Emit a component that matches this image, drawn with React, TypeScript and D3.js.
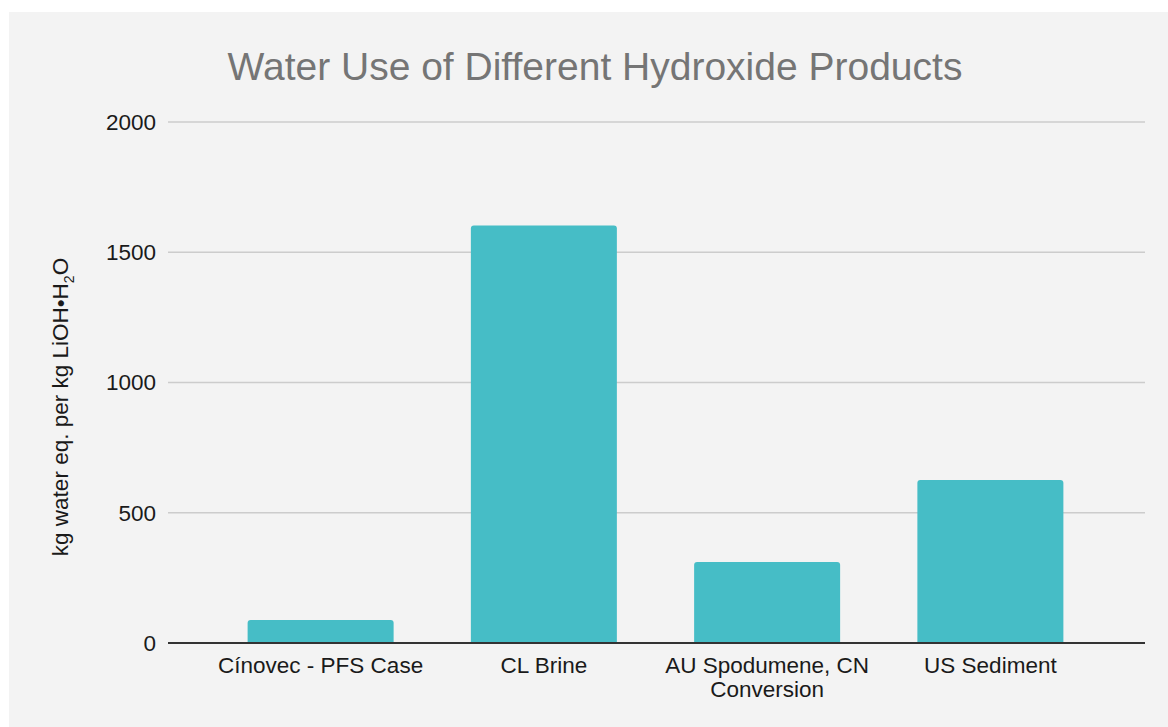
import React from "react";
import * as d3 from "d3";

const categories = ["Cínovec - PFS Case", "CL Brine", "AU Spodumene, CN Conversion", "US Sediment"];
const categoryLines = [["Cínovec - PFS Case"], ["CL Brine"], ["AU Spodumene, CN", "Conversion"], ["US Sediment"]];
const values = [88, 1603, 311, 626];
const yTicks = [0, 500, 1000, 1500, 2000];

const W = 1168;
const H = 727;
const plotLeft = 168;
const plotRight = 1145;
const yTop = 122;
const yBottom = 643;

export default function App() {
  const x = d3.scaleBand<string>().domain(categories).range([209, 1102]).paddingInner(0.346).paddingOuter(0.173);
  const y = d3.scaleLinear().domain([0, 2000]).range([yBottom, yTop]);
  const font = "'Liberation Sans', Arial, sans-serif";
  const r = 3;
  const barPath = (x0: number, y0: number, w: number, h: number) => {
    const rr = Math.min(r, h);
    return `M${x0},${y0 + h}V${y0 + rr}Q${x0},${y0} ${x0 + rr},${y0}H${x0 + w - rr}Q${x0 + w},${y0} ${x0 + w},${y0 + rr}V${y0 + h}Z`;
  };
  return (
    <svg width={W} height={H} style={{ position: "absolute", left: 0, top: 0 }} fontFamily={font}>
      <rect x={0} y={0} width={W} height={H} fill="#ffffff" />
      <rect x={9} y={12} width={W - 9} height={H - 12} fill="#f3f3f3" />
      <text x={595} y={80} textAnchor="middle" fontSize={39} fill="#757575">
        Water Use of Different Hydroxide Products
      </text>
      {yTicks.map((t) => (
        <g key={t}>
          {t !== 0 && (
            <line x1={plotLeft} x2={plotRight} y1={y(t)} y2={y(t)} stroke="#cccccc" strokeWidth={1.5} />
          )}
          <text x={156} y={y(t)} dy="0.35em" textAnchor="end" fontSize={22.5} fill="#1a1a1a">
            {t}
          </text>
        </g>
      ))}
      {categories.map((c, i) => {
        const x0 = x(c)!;
        const w = x.bandwidth();
        const y0 = y(values[i]);
        return <path key={c} d={barPath(x0, y0, w, yBottom - y0)} fill="#46bdc6" />;
      })}
      <line x1={plotLeft} x2={plotRight} y1={yBottom} y2={yBottom} stroke="#333333" strokeWidth={2} />
      {categories.map((c, i) => {
        const cx = x(c)! + x.bandwidth() / 2;
        return (
          <text key={c} x={cx} y={673} textAnchor="middle" fontSize={22.5} fill="#1a1a1a">
            {categoryLines[i].map((l, j) => (
              <tspan key={j} x={cx} dy={j === 0 ? 0 : 24}>
                {l}
              </tspan>
            ))}
          </text>
        );
      })}
      <text transform={`translate(68,407) rotate(-90)`} textAnchor="middle" fontSize={22.5} fill="#1a1a1a">
        kg water eq. per kg LiOH•H<tspan fontSize={14} dy={6}>2</tspan><tspan dy={-6}>O</tspan>
      </text>
    </svg>
  );
}
